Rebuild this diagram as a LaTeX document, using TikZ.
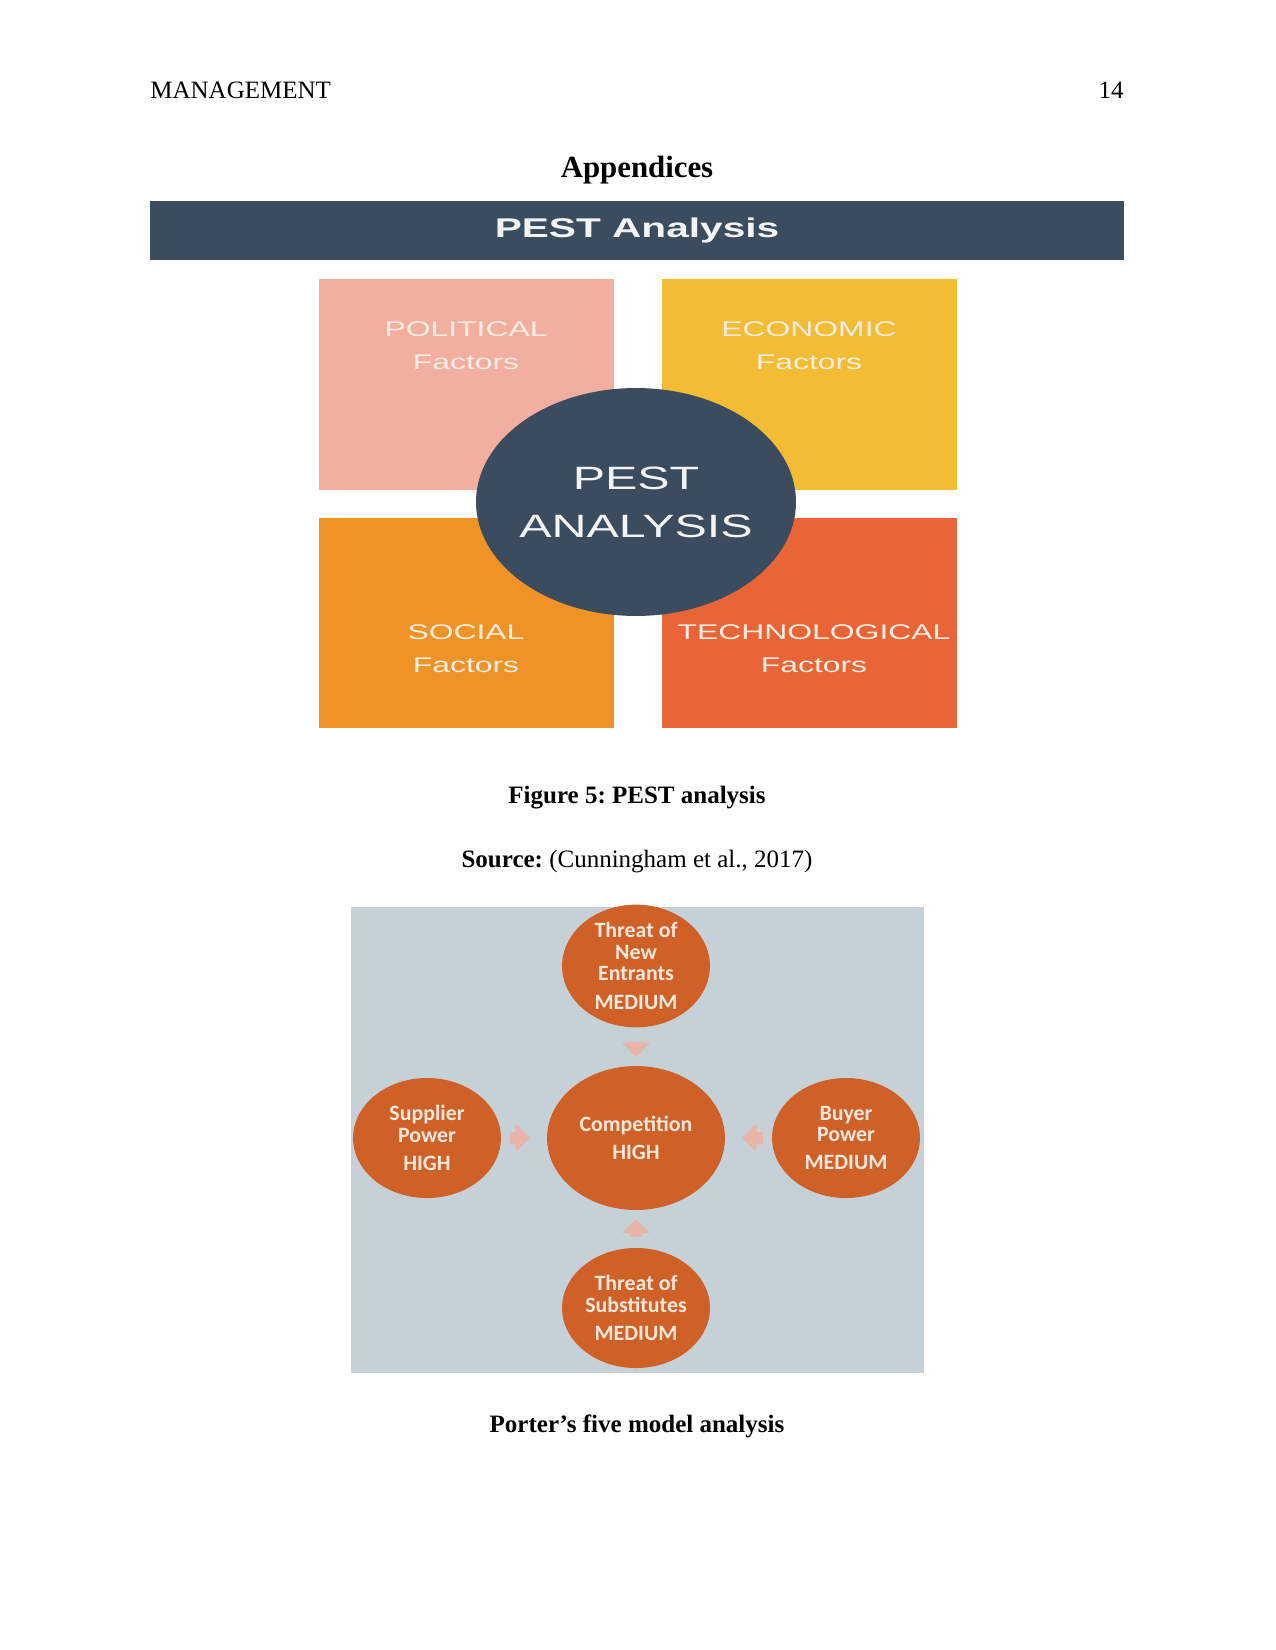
\documentclass[tikz,border=0pt]{standalone}
\usepackage{fontspec}
\setmainfont{Liberation Serif}
\newfontfamily\widesans{Liberation Sans}[FakeStretch=1.5]
\newfontfamily\carlfont{Carlito}
\usetikzlibrary{arrows.meta,shapes.geometric}
\definecolor{slate}{HTML}{3A4C5D}
\definecolor{polc}{HTML}{F2AF9F}
\definecolor{ecoc}{HTML}{F2BC35}
\definecolor{socc}{HTML}{EF9326}
\definecolor{tecc}{HTML}{E96436}
\definecolor{pbg}{HTML}{C6D1D7}
\definecolor{pcirc}{HTML}{CF6128}
\definecolor{parr}{HTML}{E8B4A8}
\definecolor{ptext}{HTML}{FBEDE3}
\definecolor{ctext}{HTML}{F9E7DB}
\tikzset{
  pestbox/.style={inner sep=0pt, minimum width=141.6pt, minimum height=101pt},
  pestlbl/.style={text=ptext, align=center, font=\widesans\fontsize{10.2}{15.8}\selectfont},
  porter/.style={ellipse, fill=pcirc, inner sep=0pt, text=ctext, align=center,
     font=\carlfont\bfseries\fontsize{10.5}{10.2}\selectfont},
  parrow/.style={draw=parr, line width=6pt, -{Triangle[length=7pt,width=13pt]}},
  caption/.style={font=\bfseries\fontsize{12}{14}\selectfont}
}
\begin{document}
\frenchspacing
\begin{tikzpicture}[x=0.48pt,y=-0.48pt]
\useasboundingbox (0,0) rectangle (1275,1650);
\fill[white] (0,0) rectangle (1275,1650);
% header
\node[anchor=base west, inner sep=0pt, font=\fontsize{12}{14}\selectfont] (hdr) at (150,99) {MANAGEMENT};
\node[anchor=base east, inner sep=0pt, font=\fontsize{12}{14}\selectfont] (pg) at (1124,99) {14};
\node[font=\bfseries\fontsize{14.8}{16}\selectfont] (app) at (637,170) {Appendices};
% banner
\node[fill=slate, minimum width=467.5pt, minimum height=28.3pt, inner sep=0pt,
      text=white!94!slate, font=\widesans\bfseries\fontsize{13}{15}\selectfont] (banner) at (637,230.5) {PEST Analysis};
% PEST squares
\node[pestbox, fill=polc] (pol) at (466.5,384.5) {};
\node[pestbox, fill=ecoc] (eco) at (809.5,384.5) {};
\node[pestbox, fill=socc] (soc) at (466.5,623) {};
\node[pestbox, fill=tecc] (tec) at (809.5,623) {};
\node[pestlbl] (polt) at (466,346) {POLITICAL\\Factors};
\node[pestlbl] (ecot) at (809,346) {ECONOMIC\\Factors};
\node[pestlbl] (soct) at (466,649) {SOCIAL\\Factors};
\node[pestlbl] (tect) at (814,649) {TECHNOLOGICAL\\Factors};
\node[ellipse, fill=slate, minimum width=153.6pt, minimum height=109.4pt, inner sep=0pt] (pest) at (636,502) {};
\node[text=white!94!slate, align=center, font=\widesans\fontsize{15.5}{23}\selectfont] (pestt) at (pest.center) {PEST\\ANALYSIS};
% captions
\node[caption] (cap1) at (637,798) {Figure 5: PEST analysis};
\node[font=\fontsize{12}{14}\selectfont] (src) at (637,862) {\textbf{Source:} (Cunningham et al., 2017)};
% Porter
\fill[pbg] (351,907) rectangle (924,1373);
\node[porter, minimum width=71pt, minimum height=55.7pt] (newent) at (636,966) {Threat of\\New\\Entrants\\[3.6pt]MEDIUM};
\node[porter, minimum width=85.4pt, minimum height=69.1pt] (comp) at (636,1138) {Competition\\[3pt]HIGH};
\node[porter, minimum width=71pt, minimum height=57.6pt] (supp) at (427,1138) {Supplier\\Power\\[3.4pt]HIGH};
\node[porter, minimum width=71pt, minimum height=57.6pt] (buy) at (846,1138) {Buyer\\Power\\[3.4pt]MEDIUM};
\node[porter, minimum width=71pt, minimum height=57.6pt] (subs) at (636,1308) {Threat of\\Substitutes\\[3.4pt]MEDIUM};
\draw[parrow, shorten <=7pt, shorten >=4pt] (newent) -- (comp);
\draw[parrow, shorten <=4pt, shorten >=8pt] (supp) -- (comp);
\draw[parrow, shorten <=4pt, shorten >=8pt] (buy) -- (comp);
\draw[parrow, shorten <=5pt, shorten >=4pt] (subs) -- (comp);
\node[caption] (cap2) at (637,1426) {Porter’s five model analysis};
\end{tikzpicture}
\end{document}
